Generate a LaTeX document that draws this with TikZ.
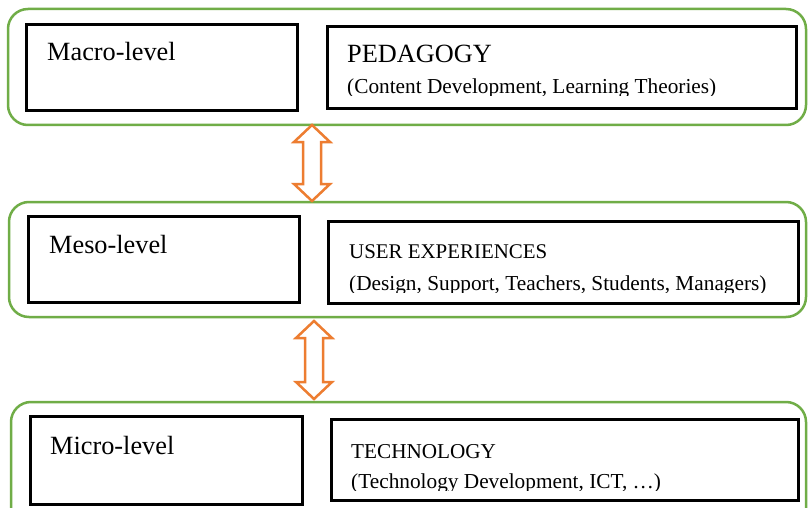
\documentclass[tikz,border=0pt]{standalone}
\usepackage{fontspec}
\setmainfont{Liberation Serif}
\usetikzlibrary{calc}

\definecolor{bandgreen}{RGB}{112,173,71}
\definecolor{arroworange}{RGB}{237,125,49}

\tikzset{
  band/.style={draw=bandgreen, line width=2.5pt, rounded corners=20pt},
  levelbox/.style={draw=black, line width=3pt, rectangle, anchor=north west, inner sep=0pt},
  leveltext/.style={anchor=base west, inner sep=0pt, font=\fontsize{26.3pt}{30pt}\selectfont},
  headtext/.style={anchor=base west, inner sep=0pt},
  subtext/.style={anchor=base west, inner sep=0pt, font=\fontsize{21.3pt}{25pt}\selectfont},
  arrowline/.style={draw=arroworange, fill=white, line width=2.5pt, line join=miter},
  pics/dblarrow/.style={code={
    \draw[arrowline] (0,0) -- (18,17) -- (9,17) -- (9,#1-17) -- (18,#1-17) -- (0,#1)
      -- (-18,#1-17) -- (-9,#1-17) -- (-9,17) -- (-18,17) -- cycle;
  }}
}

\begin{document}
\begin{tikzpicture}[x=1pt, y=-1pt]
  \clip (0,0) rectangle (808,508);
  \fill[white] (0,0) rectangle (808,508);

  % green bands
  \draw[band] (8,9) rectangle (806,125);
  \draw[band] (9,202) rectangle (806,317);
  \draw[band] (11,402) rectangle (806,545);
  \coordinate (topband) at (312,125);
  \coordinate (midbandtop) at (314,321);

  % macro level
  \node[levelbox, minimum width=271pt, minimum height=86pt] (macro) at (25,23) {};
  \node[leveltext] (macrotxt) at (47,61) {Macro-level};
  \node[levelbox, minimum width=469pt, minimum height=82pt] (ped) at (326,25) {};
  \node[headtext, font=\fontsize{26.3pt}{30pt}\selectfont] (pedtxt) at (347,63) {PEDAGOGY};
  \begin{scope}
    \clip (328,27) rectangle (793,95.5);
    \node[subtext] (pedsub) at (347,93.5) {(Content Development, Learning Theories)};
  \end{scope}

  % meso level
  \node[levelbox, minimum width=271pt, minimum height=86pt] (meso) at (27,215) {};
  \node[leveltext] (mesotxt) at (49,253) {Meso-level};
  \node[levelbox, minimum width=470pt, minimum height=82pt] (ux) at (327,220) {};
  \node[headtext, font=\fontsize{20.9pt}{25pt}\selectfont] (uxtxt) at (349,258) {USER EXPERIENCES};
  \begin{scope}
    \clip (329,222) rectangle (795,292.5);
    \node[subtext] (uxsub) at (349,290.5) {(Design, Support, Teachers, Students, Managers)};
  \end{scope}

  % micro level
  \node[levelbox, minimum width=272pt, minimum height=88pt] (micro) at (29,415) {};
  \node[leveltext] (microtxt) at (50,454) {Micro-level};
  \node[levelbox, minimum width=467pt, minimum height=81pt] (tech) at (330,418) {};
  \node[headtext, font=\fontsize{21.2pt}{25pt}\selectfont] (techtxt) at (351,458) {TECHNOLOGY};
  \begin{scope}
    \clip (332,420) rectangle (795,490.5);
    \node[subtext] (techsub) at (351,488.5) {(Technology Development, ICT, …)};
  \end{scope}

  % two-way arrows between the levels
  \pic at (topband) {dblarrow=76};
  \pic at (midbandtop) {dblarrow=78};
\end{tikzpicture}
\end{document}
